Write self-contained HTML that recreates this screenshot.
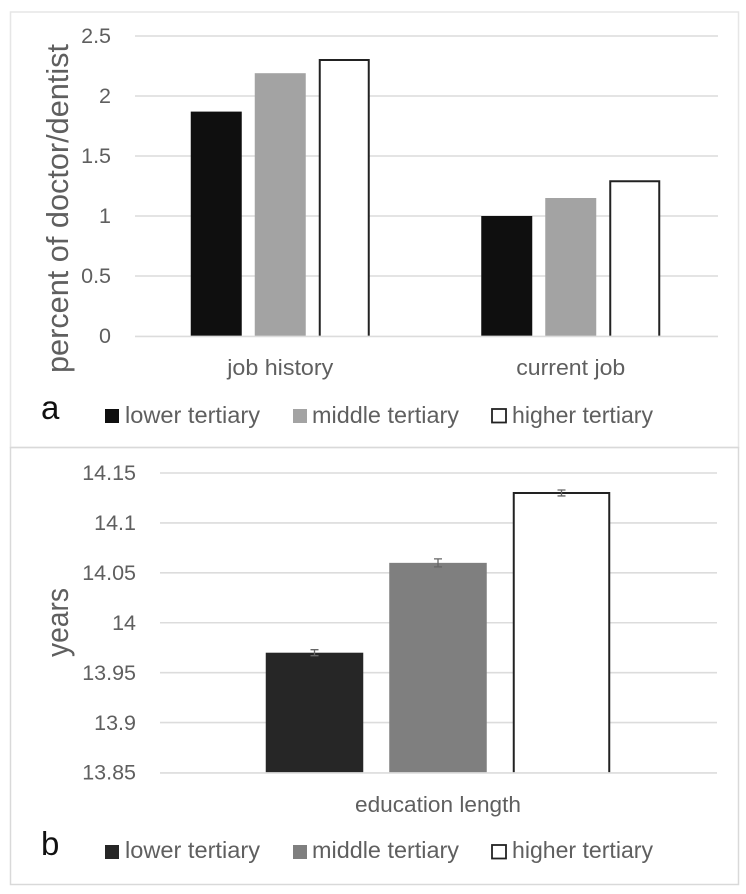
<!DOCTYPE html>
<html lang="en">
<head>
<meta charset="utf-8">
<title>Doctor/dentist percentage and education length by tertiary</title>
<style>
html,body{margin:0;padding:0;background:#fff;width:746px;height:894px;overflow:hidden}
svg{display:block;filter:blur(0.35px)}
text{font-family:"Liberation Sans",sans-serif;fill:#5f5f5f}
</style>
</head>
<body>
<svg id="figure" xmlns="http://www.w3.org/2000/svg" width="746" height="894" viewBox="0 0 746 894">
  <rect x="0" y="0" width="746" height="894" fill="#ffffff"/>
  <rect x="10.5" y="12" width="728" height="435.5" fill="none" stroke="#e6e6e6" stroke-width="1.5"/>
  <rect x="10.5" y="447.5" width="728" height="437" fill="none" stroke="#d9d9d9" stroke-width="1.5"/>
  <g id="chart-a"></g>
  <g id="chart-b"></g>

  <text x="41" y="419" font-size="33" style="fill:#111">a</text>
  <text x="41" y="855" font-size="33" style="fill:#111">b</text>

  <text transform="translate(68,373) rotate(-90)" font-size="31" textLength="329" lengthAdjust="spacingAndGlyphs">percent of doctor/dentist</text>
  <text transform="translate(68,657) rotate(-90)" font-size="31" textLength="69" lengthAdjust="spacingAndGlyphs">years</text>

  <g>
    <rect x="105" y="409" width="14" height="14" fill="#0f0f0f"/>
    <text x="125" y="423" font-size="23" textLength="135" lengthAdjust="spacingAndGlyphs">lower tertiary</text>
    <rect x="293" y="409" width="14" height="14" fill="#a3a3a3"/>
    <text x="312" y="423" font-size="23" textLength="147" lengthAdjust="spacingAndGlyphs">middle tertiary</text>
    <rect x="492" y="409" width="14" height="13.5" fill="#fff" stroke="#222" stroke-width="1.8"/>
    <text x="512" y="423" font-size="23" textLength="141" lengthAdjust="spacingAndGlyphs">higher tertiary</text>
  </g>
  <g>
    <rect x="105" y="845" width="14" height="14" fill="#262626"/>
    <text x="125" y="858" font-size="23" textLength="135" lengthAdjust="spacingAndGlyphs">lower tertiary</text>
    <rect x="293" y="845" width="14" height="14" fill="#7f7f7f"/>
    <text x="312" y="858" font-size="23" textLength="147" lengthAdjust="spacingAndGlyphs">middle tertiary</text>
    <rect x="492" y="845" width="14" height="13.5" fill="#fff" stroke="#222" stroke-width="1.8"/>
    <text x="512" y="858" font-size="23" textLength="141" lengthAdjust="spacingAndGlyphs">higher tertiary</text>
  </g>
</svg>
<script>
var NS = 'http://www.w3.org/2000/svg';

// Chart a data
var categoriesA = ['job history', 'current job'];
var lowerA = [1.87, 1.0];
var middleA = [2.19, 1.15];
var higherA = [2.3, 1.29];
var ticksA = [0, 0.5, 1, 1.5, 2, 2.5];
var tickLabelsA = ['0', '0.5', '1', '1.5', '2', '2.5'];

// Chart b data
var categoriesB = ['education length'];
var lowerB = [13.97];
var middleB = [14.06];
var higherB = [14.13];
var errorB = [0.003, 0.004, 0.003];
var ticksB = [13.85, 13.9, 13.95, 14, 14.05, 14.1, 14.15];
var tickLabelsB = ['13.85', '13.9', '13.95', '14', '14.05', '14.1', '14.15'];

function make(tag, attrs, parent) {
  var el = document.createElementNS(NS, tag);
  for (var k in attrs) { el.setAttribute(k, attrs[k]); }
  parent.appendChild(el);
  return el;
}

function linear(d0, d1, r0, r1) {
  return function (v) { return r0 + (v - d0) / (d1 - d0) * (r1 - r0); };
}

function drawChart(cfg) {
  var g = document.getElementById(cfg.id);
  var y = linear(cfg.ticks[0], cfg.ticks[cfg.ticks.length - 1], cfg.yBottom, cfg.yTop);
  var band = (cfg.bandEnd - cfg.bandStart) / cfg.categories.length;

  cfg.ticks.forEach(function (t, i) {
    if (i > 0) {
      var line = make('line', {x1: cfg.gridStart, x2: cfg.gridEnd, y1: y(t), y2: y(t), stroke: '#dcdcdc', 'stroke-width': 1.6}, g);
      
      
    }
    var lab = make('text', {x: cfg.tickX, y: y(t) + 7.2, 'text-anchor': 'end', 'font-size': 21.5}, g);
    lab.textContent = cfg.tickLabels[i];
    
    
  });

  cfg.categories.forEach(function (c, ci) {
    var center = cfg.bandStart + band * (ci + 0.5);
    cfg.series.forEach(function (s, si) {
      var mid = center + (si - 1) * cfg.step;
      var left = mid - cfg.barWidth / 2;
      var top = y(s.values[ci]);
      var bar;
      if (s.outline) {
        bar = make('path', {
          d: 'M' + (left + 1) + ' ' + cfg.yBottom + 'V' + top + 'H' + (left + cfg.barWidth - 1) + 'V' + cfg.yBottom,
          fill: s.fill, stroke: '#222222', 'stroke-width': 2
        }, g);
      } else {
        bar = make('rect', {x: left, y: top, width: cfg.barWidth, height: cfg.yBottom - top, fill: s.fill}, g);
      }
      
      

      if (cfg.errors) {
        var e = cfg.errors[si];
        var v = s.values[ci];
        var err = make('path', {
          d: 'M' + (mid - 4) + ' ' + y(v + e) + 'h8M' + (mid - 4) + ' ' + y(v - e) + 'h8M' + mid + ' ' + y(v + e) + 'V' + y(v - e),
          stroke: '#666666', 'stroke-width': 1.3, fill: 'none'
        }, g);
        
        
      }
    });
    var cat = make('text', {x: center, y: cfg.catY, 'text-anchor': 'middle', 'font-size': 22, textLength: cfg.catLengths[ci], lengthAdjust: 'spacingAndGlyphs'}, g);
    cat.textContent = c;
    
    
  });

  var base = make('line', {x1: cfg.gridStart, x2: cfg.gridEnd, y1: cfg.yBottom + 0.4, y2: cfg.yBottom + 0.4, stroke: '#dcdcdc', 'stroke-width': 1.6}, g);
  
  
}

drawChart({
  id: 'chart-a', categories: categoriesA, ticks: ticksA, tickLabels: tickLabelsA,
  yBottom: 336, yTop: 36, gridStart: 135, gridEnd: 718, bandStart: 135, bandEnd: 716,
  tickX: 111, barWidth: 51, step: 64, catY: 375, catLengths: [106, 109],
  series: [
    {name: 'lower', values: lowerA, fill: '#0f0f0f'},
    {name: 'middle', values: middleA, fill: '#a3a3a3'},
    {name: 'higher', values: higherA, fill: '#ffffff', outline: true}
  ]
});

drawChart({
  id: 'chart-b', categories: categoriesB, ticks: ticksB, tickLabels: tickLabelsB, errors: errorB,
  yBottom: 772.5, yTop: 473, gridStart: 160, gridEnd: 717, bandStart: 160, bandEnd: 716,
  tickX: 136, barWidth: 97.5, step: 123.5, catY: 812, catLengths: [166],
  series: [
    {name: 'lower', values: lowerB, fill: '#262626'},
    {name: 'middle', values: middleB, fill: '#7f7f7f'},
    {name: 'higher', values: higherB, fill: '#ffffff', outline: true}
  ]
});
</script>
</body>
</html>
